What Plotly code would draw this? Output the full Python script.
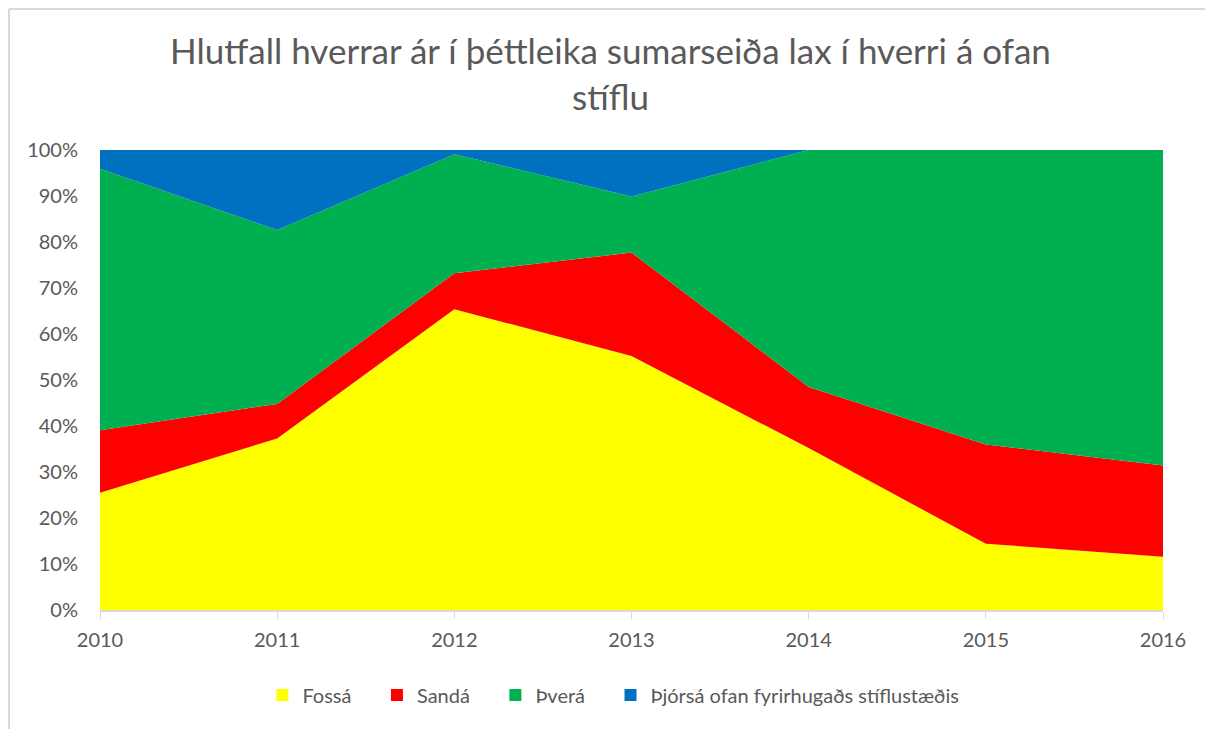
import plotly.graph_objects as go

years = ["2010", "2011", "2012", "2013", "2014", "2015", "2016"]
fossa = [25.5, 37.3, 65.4, 55.2, 35.2, 14.4, 11.6]
sanda = [13.6, 7.5, 7.8, 22.5, 13.3, 21.6, 19.8]
thvera = [56.8, 37.8, 25.9, 12.2, 51.5, 64.0, 68.6]
thjorsa = [4.1, 17.4, 0.9, 10.1, 0.0, 0.0, 0.0]

names = ["Fossá", "Sandá", "Þverá", "Þjórsá ofan fyrirhugaðs stíflustæðis"]
colors = ["#FFFF00", "#FF0000", "#00B050", "#0070C0"]
series = [fossa, sanda, thvera, thjorsa]

fig = go.Figure()
for n, c, s in zip(names, colors, series):
    fig.add_trace(go.Scatter(
        x=years, y=s, name=n, mode="lines", stackgroup="one",
        line=dict(width=0, color=c), fillcolor=c,
        showlegend=False, legendgroup=n,
    ))
# legend entries with square swatches
pad = "\u00a0" * 4
for i, (n, c) in enumerate(zip(names, colors)):
    label = n + (pad if i < len(names) - 1 else "")
    fig.add_trace(go.Scatter(
        x=[None], y=[None], name=label, mode="markers", legendgroup=n,
        marker=dict(symbol="square", size=12, color=c),
    ))

font_family = "Lato, Open Sans, sans-serif"
# page has an 8px body margin: figure sits at (8, 8)
fig.update_layout(
    width=1205, height=721,
    paper_bgcolor="white", plot_bgcolor="white",
    margin=dict(l=92, r=50, t=142, b=119),
    title=dict(
        text="Hlutfall hverrar ár í þéttleika sumarseiða lax í hverri á ofan<br>stíflu",
        x=0.5, xanchor="center", yref="container", y=0.922, yanchor="top",
        font=dict(family=font_family, size=35, color="#595959"),
    ),
    font=dict(family=font_family, color="#595959", size=20),
    showlegend=True,
    legend=dict(
        orientation="h", x=0.483, xanchor="center", y=-0.185, yanchor="middle",
        font=dict(size=20, color="#595959"), traceorder="normal",
        itemwidth=30,
    ),
    xaxis=dict(
        type="category", range=[0, 6], showgrid=False,
        showline=True, linecolor="#D9D9D9", linewidth=1.5,
        ticks="outside", ticklen=7, tickcolor="#D9D9D9",
        tickfont=dict(size=20, color="#595959"),
        ticklabelstandoff=4,
    ),
    yaxis=dict(
        range=[0, 100], tickvals=list(range(0, 101, 10)),
        ticktext=[f"{v}%" for v in range(0, 101, 10)],
        showgrid=True, gridcolor="#D9D9D9", zeroline=False,
        tickfont=dict(size=20, color="#595959"),
        ticklabelstandoff=21,
        layer="below traces",
    ),
)

# chart-area border (left and top edges visible in the reference)
fig.add_shape(type="line", xref="paper", yref="paper",
              x0=-0.0856, x1=-0.0856, y0=-0.30, y1=1.3065,
              line=dict(color="#D9D9D9", width=2))
fig.add_shape(type="line", xref="paper", yref="paper",
              x0=-0.0856, x1=1.06, y0=1.3065, y1=1.3065,
              line=dict(color="#D9D9D9", width=2))

fig.write_html("out.html")
